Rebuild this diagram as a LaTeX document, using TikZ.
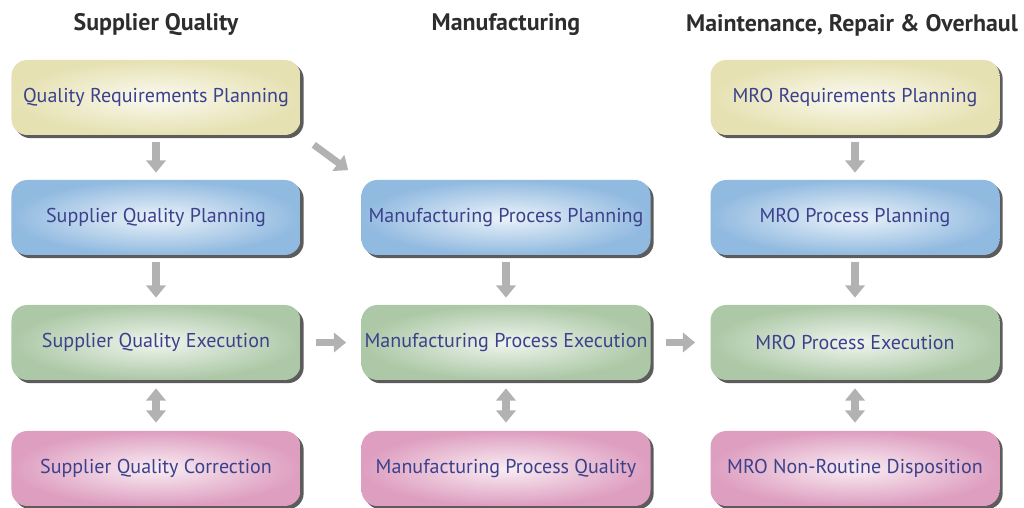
\documentclass[tikz,border=0pt]{standalone}
\usepackage{fontspec}
\setmainfont{PT Sans}
\usepackage{xcolor}
\usepackage{tikz}
\usetikzlibrary{calc,arrows.meta,shadows}

\definecolor{boxtext}{RGB}{60,65,140}
\definecolor{headtext}{RGB}{45,45,45}
\definecolor{yelbox}{RGB}{230,225,178}
\definecolor{blubox}{RGB}{145,186,224}
\definecolor{grnbox}{RGB}{172,200,166}
\definecolor{pnkbox}{RGB}{222,158,192}
\definecolor{arrgray}{RGB}{178,178,178}

\begin{document}
\begin{tikzpicture}[
    box/.style={rounded corners=9pt, minimum width=5.78cm, minimum height=1.5cm, inner xsep=1pt,
      inner color=#1!18, outer color=#1, text=boxtext, font=\fontsize{11.4}{13}\selectfont,
      drop shadow={shadow xshift=1.8pt, shadow yshift=-1.8pt, fill=black!75, opacity=.85}},
    head/.style={text=headtext, font=\fontsize{13.6}{15}\selectfont\bfseries},
    flow/.style={line width=4pt, draw=arrgray, -{Triangle[width=11pt,length=7pt]},
      shorten <=#1, shorten >=#1},
    bothflow/.style={line width=4pt, draw=arrgray,
      {Triangle[width=11pt,length=7pt]}-{Triangle[width=11pt,length=7pt]},
      shorten <=0.16cm, shorten >=0.16cm}]
    \useasboundingbox (0,0) rectangle (20.48,10.16);

    \node[head] (H1) at (3.12,9.66) {Supplier Quality};
    \node[head] (H2) at (10.12,9.66) {Manufacturing};
    \node[head] (H3) at (17.04,9.66) {Maintenance, Repair \& Overhaul};

    \node[box=yelbox] (SQ1) at (3.12,8.21) {Quality Requirements Planning};
    \node[box=blubox] (SQ2) at (3.12,5.81) {Supplier Quality Planning};
    \node[box=grnbox] (SQ3) at (3.12,3.31) {Supplier Quality Execution};
    \node[box=pnkbox] (SQ4) at (3.12,0.79) {Supplier Quality Correction};

    \node[box=blubox] (MF2) at (10.12,5.81) {Manufacturing Process Planning};
    \node[box=grnbox] (MF3) at (10.12,3.31) {Manufacturing Process Execution};
    \node[box=pnkbox] (MF4) at (10.12,0.79) {Manufacturing Process Quality};

    \node[box=yelbox] (MR1) at (17.10,8.21) {MRO Requirements Planning};
    \node[box=blubox] (MR2) at (17.10,5.81) {MRO Process Planning};
    \node[box=grnbox] (MR3) at (17.10,3.31) {MRO Process Execution};
    \node[box=pnkbox] (MR4) at (17.10,0.79) {MRO Non-Routine Disposition};

    \draw[flow=0.14cm] (SQ1) -- (SQ2);
    \draw[flow=0.14cm] (SQ2) -- (SQ3);
    \draw[flow=0.14cm] (MF2) -- (MF3);
    \draw[flow=0.14cm] (MR1) -- (MR2);
    \draw[flow=0.14cm] (MR2) -- (MR3);
    \draw[flow=0.32cm] (SQ1.south east) -- (MF2.north west);
    \draw[flow=0.3cm] (SQ3) -- (MF3);
    \draw[flow=0.3cm] (MF3) -- (MR3);

    \draw[bothflow] (SQ3) -- (SQ4);
    \draw[bothflow] (MF3) -- (MF4);
    \draw[bothflow] (MR3) -- (MR4);
  \end{tikzpicture}
\end{document}
